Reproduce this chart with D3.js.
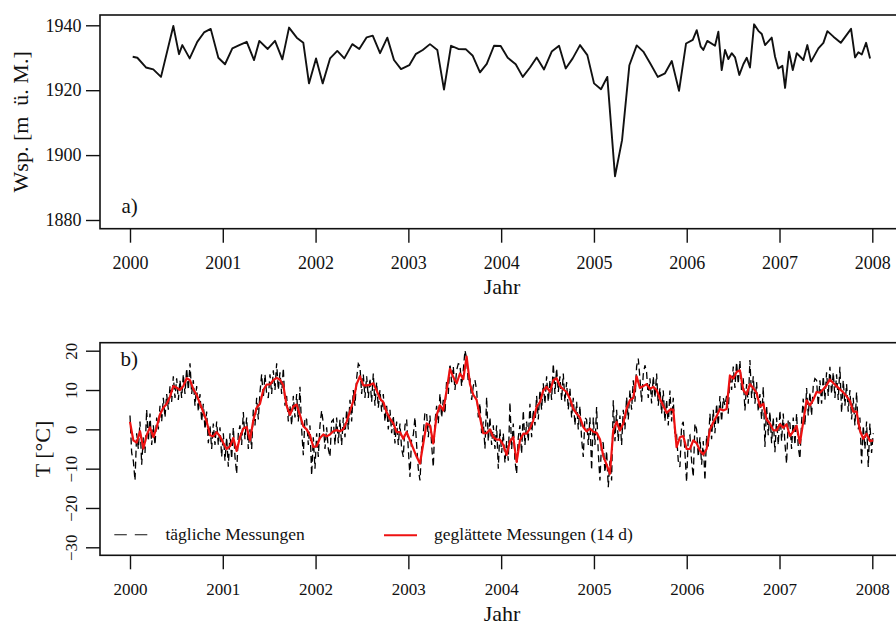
<!DOCTYPE html>
<html>
<head>
<meta charset="utf-8">
<script src="https://cdn.jsdelivr.net/npm/d3@7"></script>
<style>
    body { margin: 0; background: #fff; }
    svg text { font-family: "Liberation Serif", "Times New Roman", serif; fill: #111; }
</style>
</head>
<body>
<div id="chart"></div>
<script>

// a) Wasserspiegel, Ablesungen ca. monatlich (Jahr als Dezimalzahl)
var wspYear = [2000.029,2000.079,2000.172,2000.251,2000.334,2000.467,2000.528,2000.564,2000.643,2000.725,
    2000.798,2000.870,2000.952,2001.024,2001.103,2001.178,2001.258,2001.337,2001.394,2001.484,
    2001.563,2001.642,2001.714,2001.797,2001.868,2001.929,2002.005,2002.077,2002.156,2002.234,
    2002.310,2002.396,2002.471,2002.551,2002.616,2002.695,2002.773,2002.845,2002.921,2003.010,
    2003.079,2003.155,2003.233,2003.312,2003.384,2003.460,2003.538,2003.621,2003.694,2003.772,
    2003.845,2003.923,2003.995,2004.071,2004.157,2004.233,2004.311,2004.383,2004.462,2004.545,
    2004.624,2004.696,2004.771,2004.850,2004.929,2005.001,2005.076,2005.144,2005.227,2005.303,
    2005.382,2005.461,2005.532,2005.612,2005.688,2005.766,2005.839,2005.917,2005.993,2006.065,
    2006.108,2006.151,2006.179,2006.222,2006.305,2006.341,2006.377,2006.413,2006.449,2006.485,
    2006.521,2006.567,2006.610,2006.647,2006.682,2006.726,2006.772,2006.809,2006.844,2006.916,
    2006.952,2006.987,2007.031,2007.060,2007.103,2007.143,2007.186,2007.257,2007.300,2007.340,
    2007.419,2007.473,2007.516,2007.581,2007.660,2007.771,2007.814,2007.850,2007.887,2007.933,
    2007.976];
var wspLevel = [1930.3,1930.0,1927.0,1926.4,1924.1,1939.8,1931.1,1933.9,1929.8,1934.9,
    1937.8,1938.9,1930.0,1928.0,1932.9,1933.9,1934.9,1929.3,1935.2,1932.7,
    1935.2,1929.5,1939.3,1936.2,1934.6,1922.1,1929.8,1922.1,1929.8,1932.1,
    1929.8,1934.2,1932.7,1936.3,1936.8,1931.4,1936.2,1929.3,1926.5,1927.7,
    1931.1,1932.4,1934.2,1932.4,1920.2,1933.7,1932.7,1932.6,1930.6,1925.5,
    1928.1,1933.7,1933.6,1930.0,1928.0,1924.1,1927.0,1930.1,1926.4,1931.9,
    1933.7,1926.7,1929.8,1933.9,1930.8,1922.1,1920.3,1924.1,1893.5,1904.6,
    1927.7,1933.8,1931.9,1928.0,1924.1,1925.2,1929.0,1919.8,1934.4,1935.5,
    1938.5,1933.4,1932.4,1935.2,1933.7,1938.0,1926.2,1932.4,1929.6,1931.4,
    1930.1,1924.7,1928.0,1930.0,1927.0,1940.3,1938.3,1937.3,1933.9,1936.2,
    1930.3,1926.7,1927.5,1920.7,1931.9,1926.2,1931.4,1929.3,1933.9,1928.8,
    1932.9,1934.6,1938.2,1936.5,1934.6,1938.9,1930.1,1931.7,1931.0,1934.6,
    1929.8];

// b) Temperatur: Messungen (ausgedünnt) und geglättete Werte, ab 1.1.2000
var dailyStep = 0.01796;   // Jahre zwischen zwei Werten
var tDaily = [3.5,-6,-8,-13,-1,-5,2,-9,-2,-6,5,-3,4,-4,1,-4,3,0,6,2,
    8,3,9,5,11,7,13.5,8,13,7.5,12.5,8,14,9,15.5,10,16.8,9,12.5,6,
    11,4.5,9,2,6.5,0,4.5,-3.5,1,-5,1.5,-4,2,-4,0.5,-7,-1,-8,-2,-9.5,
    -1,-7.5,0.5,-7,-11.3,-1,1,-4,4.4,-2.5,3,-5,0,-5,5,1,8,2.5,9.5,14,
    8,14,9,8,14,9,15,10,16.8,10,14.5,9,15.6,6,8.5,2,6,1,8.5,3,
    9,2,10.8,0,-6.6,3,2.5,-4,1,-11.7,-2,-10,-1,-7,1,4.8,1.5,-5,0.5,-5,
    -7,2,2.5,-4,3,-3.5,2.5,-4,3,-2,5,0,7.5,2,10,6,13,16.7,16,9,
    14,8,13.5,8,13,7,14.2,6,12,5.5,10,4.5,9,2,6,0,5,-1,3.5,-3.6,
    2,-4,1.5,-5,-7,1,2.5,-5,-12.1,-2,-1.5,3.1,-4,-10,-13,-5,-1,4.4,4,-2,
    3.5,-4,-9.6,2,6,1.5,9.1,3,7.5,4,12.5,9,16.7,12,16,10,15,16.7,16.5,11,
    15,20.1,18,12,13,7.5,11,12.5,10,3,6.6,-1,2,-4.9,8.2,-3,3.1,-4,1,-5,
    1,-10,0,-6,-1,-8.5,-3,-8,6.9,-5,1.5,-8,-11.3,-2,1,-6.2,4.8,-4,2,-3,
    6.5,-2,5,1,8.5,2.5,10,5,11.7,6.5,13.5,7,12.5,7.5,16.7,9,15.5,9.5,13.5,7.4,
    14.2,7,12,5,10.5,3,8,1,7,0,6,-2.5,-7,3,2.5,-4,3,-10.4,3,-4,
    5.7,-6,-13,-3,-3.5,-11,-5.5,-14.7,-8,-13,7.4,-3,5,-3,3.5,-4,5,0,8.2,2.5,
    10,5,12.5,7,16,18,13,7,14,16.3,14.5,8,13,6.6,13.5,8,14.2,6,10.5,4,
    9.9,2,7.5,1,9.9,2,8,-2,-1.5,-8,-9.6,1,1.9,-6,-13.4,-2,-1.5,-8,-12.1,1.5,
    0,-7,-2,-9,-3,-13,-1.5,-4.4,4,-2.5,5,-1,6.5,1,8.5,2,8,6.1,8.5,4,
    14.2,10,16,10.5,17.1,11.5,17.5,9.5,13,4.8,11.5,6.5,17.6,8,13.5,6.5,12,4.5,9,2.5,
    10.8,-4.5,6,-1.5,4.5,-3.5,3,-5.8,3,-4,4.8,-3,4,-3.5,-8.7,2.5,1.5,-5,3,-4,
    4,-4.5,-7.5,2,7.8,1,10.5,3.5,9.5,3.5,11,12.9,12.5,6,12.5,6.5,13.5,7.5,14.5,8.5,
    15.9,9,14.5,8,14,7.5,15.9,4.2,12.5,6,11.5,4.5,10,2.5,8,1,9.5,0,3,-8.7,
    1,-5,2,-9.6,1.5,-6,-1];

var smoothStep = 0.03592;
var tSmooth = [1.9,-2.8,-3.4,-0.5,-4.9,-1.5,0.5,-2.0,0.5,3.8,
    5.5,6.5,8.3,11.0,10.6,10.0,11.0,13.0,12.5,10.2,
    8.8,6.5,4.4,2.0,-1.5,-1.8,-0.7,-1.8,-3.5,-5.0,
    -4.3,-2.2,-5.5,-2.0,0.2,0.6,-2.8,2.3,5.5,6.5,
    10.0,11.4,11.4,12.5,13.1,12.6,11.2,6.0,3.7,5.8,
    6.3,3.6,0.8,0.0,-1.5,-4.5,-4.3,-2.2,-1.3,-1.8,
    -1.3,-0.5,-0.2,-0.5,0.0,1.9,4.6,7.2,11.5,13.5,
    11.2,11.2,11.3,11.7,9.9,7.8,6.9,4.4,2.7,1.5,
    -0.7,-0.7,-2.4,-0.7,-2.8,-4.9,-7.0,-8.7,-3.6,1.5,
    1.0,-3.6,3.6,6.1,4.8,9.9,15.4,13.3,11.7,14.2,
    12.8,18.5,11.5,8.8,7.5,3.0,-1.0,-1.0,0.0,-2.0,
    -2.6,-2.6,-4.0,-6.5,-3.0,-2.0,-8.3,-2.8,-1.1,-1.1,
    0.2,2.3,5.7,6.9,9.9,10.8,9.5,12.5,13.0,11.0,
    10.2,9.5,7.8,5.2,4.0,3.0,0.6,-0.5,0.2,-0.6,
    -0.9,-2.5,-6.8,-9.0,-11.3,-0.3,1.9,-0.3,1.5,5.3,
    7.4,8.0,13.5,10.5,11.0,11.5,10.3,10.8,10.0,7.8,
    6.0,4.2,5.0,5.0,-4.5,-2.0,-1.7,-5.0,-5.0,-2.8,
    -3.5,-5.4,-6.4,-5.0,-0.1,1.8,3.3,5.2,4.8,5.2,
    13.7,12.9,14.6,15.0,10.0,8.9,11.5,10.5,9.3,5.8,
    6.5,2.5,1.5,-0.2,-0.3,1.3,0.4,1.3,-1.7,-0.5,
    0.9,-3.5,1.9,7.4,6.1,7.5,9.5,9.3,10.2,11.2,
    12.7,11.8,11.0,10.2,9.4,8.4,7.3,4.5,4.5,-0.3,
    -2.4,-1.1,-3.0,-2.8];

var yearTicks = [2000, 2001, 2002, 2003, 2004, 2005, 2006, 2007, 2008];
var wspTicks = [1880, 1900, 1920, 1940];
var tempTicks = [-30, -20, -10, 0, 10, 20];

var legendLabels = ["tägliche Messungen", "geglättete Messungen (14 d)"];


var width = 896, height = 624;
var plotLeft = 100, plotRight = 902;
var panelA = {top: 15, bottom: 228.7};
var panelB = {top: 342.7, bottom: 555.3};
var ink = "#111";
var serif = '"Liberation Serif", "Times New Roman", serif';

var svg = d3.select("#chart").append("svg")
    .attr("width", width)
    .attr("height", height);

var x = d3.scaleLinear().domain([2000, 2008]).range([130, 872.3]);
var yA = d3.scaleLinear().domain([1880, 1940]).range([220, 25.3]);
var yB = d3.scaleLinear().domain([-30, 20]).range([547.3, 350.7]);

// clip paths
[["clipA", panelA], ["clipB", panelB]].forEach(function (c) {
    svg.append("clipPath").attr("id", c[0])
        .append("rect")
        .attr("x", plotLeft).attr("y", c[1].top)
        .attr("width", plotRight - plotLeft)
        .attr("height", c[1].bottom - c[1].top);
});

function styleAxis(g, fs) {
    g.attr("font-family", serif).attr("font-size", fs);
    g.select(".domain").remove();
    g.selectAll(".tick line").attr("stroke", ink).attr("stroke-width", 1.4);
    g.selectAll(".tick text")
        .style("font-family", serif)
        .style("font-size", fs + "px")
        .style("fill", ink);
}

function xAxis(bottom, fs, pad) {
    var g = svg.append("g")
        .attr("transform", "translate(0," + bottom + ")")
        .call(d3.axisBottom(x).tickValues(yearTicks).tickFormat(d3.format("d"))
            .tickSize(14).tickPadding(pad));
    styleAxis(g, fs);
    return g;
}

// ---------- panel a) ----------
xAxis(panelA.bottom, 18, 14);

var gyA = svg.append("g")
    .attr("transform", "translate(" + plotLeft + ",0)")
    .call(d3.axisLeft(yA).tickValues(wspTicks).tickFormat(d3.format("d"))
        .tickSize(14).tickPadding(4.5));
styleAxis(gyA, 18);

svg.append("path")
    .datum(d3.zip(wspYear, wspLevel))
    .attr("clip-path", "url(#clipA)")
    .attr("fill", "none")
    .attr("stroke", ink)
    .attr("stroke-width", 1.9)
    .attr("stroke-linejoin", "round")
    .attr("d", d3.line().x(function (d) { return x(d[0]); }).y(function (d) { return yA(d[1]); }));

svg.append("rect")
    .attr("x", plotLeft).attr("y", panelA.top)
    .attr("width", plotRight - plotLeft).attr("height", panelA.bottom - panelA.top)
    .attr("fill", "none").attr("stroke", ink).attr("stroke-width", 1.6);

svg.append("text").attr("x", 121.5).attr("y", 213).attr("font-size", 21).text("a)");

svg.append("text")
    .attr("transform", "translate(27.5," + (panelA.top + panelA.bottom) / 2 + ") rotate(-90)")
    .attr("text-anchor", "middle").attr("font-size", 22)
    .text("Wsp. [m\u00a0 ü. M.]");

svg.append("text").attr("x", 502).attr("y", 294)
    .attr("text-anchor", "middle").attr("font-size", 22).text("Jahr");

// ---------- panel b) ----------
xAxis(panelB.bottom, 17, 13.5);

var gyB = svg.append("g")
    .attr("transform", "translate(" + plotLeft + ",0)")
    .call(d3.axisLeft(yB).tickValues(tempTicks).tickFormat(d3.format("d")).tickSize(14));
styleAxis(gyB, 17);
gyB.selectAll(".tick text")
    .attr("x", null).attr("dy", null)
    .attr("text-anchor", "middle")
    .attr("transform", "translate(-23,0) rotate(-90)");

var lineB = d3.line()
    .x(function (d) { return x(d[0]); })
    .y(function (d) { return yB(d[1]); });

svg.append("path")
    .datum(tDaily.map(function (v, i) { return [2000 + i * dailyStep, v]; }))
    .attr("clip-path", "url(#clipB)")
    .attr("fill", "none")
    .attr("stroke", "#000")
    .attr("stroke-width", 1.3)
    .attr("stroke-dasharray", "7,4")
    .attr("d", lineB);

svg.append("path")
    .datum(tSmooth.map(function (v, i) { return [2000 + i * smoothStep, v]; }))
    .attr("clip-path", "url(#clipB)")
    .attr("fill", "none")
    .attr("stroke", "#ee1111")
    .attr("stroke-width", 2.2)
    .attr("stroke-linejoin", "round")
    .attr("d", lineB);

svg.append("rect")
    .attr("x", plotLeft).attr("y", panelB.top)
    .attr("width", plotRight - plotLeft).attr("height", panelB.bottom - panelB.top)
    .attr("fill", "none").attr("stroke", ink).attr("stroke-width", 1.6);

svg.append("text").attr("x", 120.5).attr("y", 366).attr("font-size", 21).text("b)");

svg.append("text")
    .attr("transform", "translate(49.5," + (panelB.top + panelB.bottom) / 2 + ") rotate(-90)")
    .attr("text-anchor", "middle").attr("font-size", 22)
    .text("T [°C]");

svg.append("text").attr("x", 502).attr("y", 620.5)
    .attr("text-anchor", "middle").attr("font-size", 22).text("Jahr");

// legend
var legend = svg.append("g");
legend.append("line")
    .attr("x1", 114.3).attr("x2", 147.5).attr("y1", 534.8).attr("y2", 534.8)
    .attr("stroke", ink).attr("stroke-width", 1.1).attr("stroke-dasharray", "12.5,8");
legend.append("text").attr("x", 165.4).attr("y", 540).attr("font-size", 17.5).text(legendLabels[0]);
legend.append("line")
    .attr("x1", 384).attr("x2", 417).attr("y1", 535.2).attr("y2", 535.2)
    .attr("stroke", "#ee1111").attr("stroke-width", 2);
legend.append("text").attr("x", 434).attr("y", 540).attr("font-size", 17.5).text(legendLabels[1]);

</script>
</body>
</html>
